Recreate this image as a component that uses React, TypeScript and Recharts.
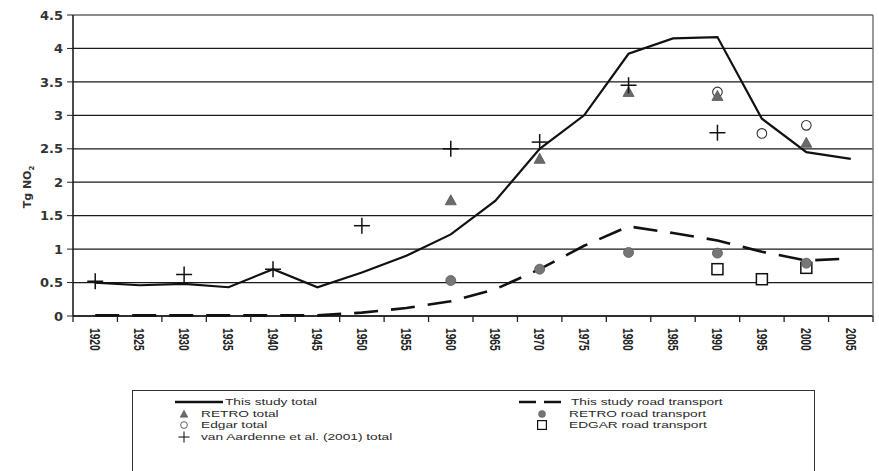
import React from 'react'
import { ComposedChart, Line, XAxis, YAxis, CartesianGrid } from 'recharts'

// years on the x axis and the emission series (Tg NO2)
const years = [1920, 1925, 1930, 1935, 1940, 1945, 1950, 1955, 1960, 1965, 1970, 1975, 1980, 1985, 1990, 1995, 2000, 2005]
const studyTotal = [0.5, 0.46, 0.48, 0.43, 0.7, 0.43, 0.65, 0.9, 1.22, 1.72, 2.5, 3.0, 3.92, 4.15, 4.17, 2.95, 2.45, 2.35]
const studyRoad = [0.01, 0.01, 0.01, 0.01, 0.01, 0.01, 0.05, 0.12, 0.22, 0.4, 0.7, 1.05, 1.34, 1.24, 1.13, 0.96, 0.83, 0.86]
const retroTotal = [null, null, null, null, null, null, null, null, 1.73, null, 2.35, null, 3.35, null, 3.29, null, 2.59, null]
const edgarTotal = [null, null, null, null, null, null, null, null, null, null, null, null, null, null, 3.35, 2.73, 2.85, null]
const aardenneTotal = [0.52, null, 0.62, null, 0.7, null, 1.35, null, 2.5, null, 2.6, null, 3.45, null, 2.74, null, null, null]
const retroRoad = [null, null, null, null, null, null, null, null, 0.53, null, 0.7, null, 0.95, null, 0.94, null, 0.79, null]
const edgarRoad = [null, null, null, null, null, null, null, null, null, null, null, null, null, null, 0.7, 0.55, 0.72, null]

const yTicks = [0, 0.5, 1, 1.5, 2, 2.5, 3, 3.5, 4, 4.5]
// tick marks sit between the 5-year categories
const yearBounds = [...years.map((y) => y - 2.5), 2007.5]

const data = years.map((year, i) => ({
  year,
  studyTotal: studyTotal[i],
  studyRoad: studyRoad[i],
  retroTotal: retroTotal[i],
  edgarTotal: edgarTotal[i],
  aardenneTotal: aardenneTotal[i],
  retroRoad: retroRoad[i],
  edgarRoad: edgarRoad[i],
}))

const Triangle = ({ cx, cy }: { cx: number; cy: number }) => (
  <path d={`M${cx},${cy - 5.5} L${cx + 5.5},${cy + 4.5} L${cx - 5.5},${cy + 4.5} Z`} fill="#6a6a6a" stroke="#555" strokeWidth={0.8} />
)
const OpenCircle = ({ cx, cy }: { cx: number; cy: number }) => (
  <circle cx={cx} cy={cy} r={4.8} fill="#fff" stroke="#333" strokeWidth={1.1} />
)
const Plus = ({ cx, cy }: { cx: number; cy: number }) => (
  <g stroke="#111" strokeWidth={1.5}>
    <line x1={cx - 8} y1={cy} x2={cx + 8} y2={cy} />
    <line x1={cx} y1={cy - 8} x2={cx} y2={cy + 8} />
  </g>
)
const GrayDot = ({ cx, cy }: { cx: number; cy: number }) => (
  <circle cx={cx} cy={cy} r={5} fill="#767676" stroke="#5a5a5a" strokeWidth={0.8} />
)
const Square = ({ cx, cy }: { cx: number; cy: number }) => (
  <rect x={cx - 5.5} y={cy - 5.5} width={11} height={11} fill="#fff" stroke="#111" strokeWidth={1.5} />
)

const marker = (Shape: any, name: string) => (props: any) => {
  if (props.value == null || props.cy == null) return <g key={`${name}-${props.index}`} />
  return <Shape key={`${name}-${props.index}`} cx={props.cx} cy={props.cy} />
}

// smaller copy of a marker for the legend
const LegendMarker = ({ Shape, cx, cy, k = 0.7 }: { Shape: any; cx: number; cy: number; k?: number }) => (
  <g transform={`translate(${cx},${cy}) scale(${k})`}>
    <Shape cx={0} cy={0} />
  </g>
)

const YearTick = ({ x, y, payload }: any) => (
  <text
    transform={`translate(${x},${y + 11}) rotate(90) scale(0.85,1.25)`}
    textAnchor="start"
    dominantBaseline="central"
    fontSize={12}
    fontWeight="bold"
    fontFamily="Liberation Sans, Arial, sans-serif"
    fill="#222"
  >
    {payload.value}
  </text>
)

const NoLabel = () => <g />

// legend labels: narrow font widened a little
const LegendLabel = ({ x, y, children }: { x: number; y: number; children: React.ReactNode }) => (
  <text
    transform={`translate(${x},${y}) scale(1.4,1)`}
    fontSize={9.8}
    fontFamily="Liberation Sans, Arial, sans-serif"
    fill="#2a2a2a"
    dominantBaseline="central"
  >
    {children}
  </text>
)

function ChartLegend() {
  return (
    <svg width={879} height={471} style={{ position: 'absolute', left: 0, top: 0, pointerEvents: 'none' }}>
      <text transform="translate(31,187) rotate(-90)" textAnchor="middle" fontSize={11} fontWeight="bold" fontFamily="DejaVu Sans, sans-serif" fill="#333">
        Tg NO<tspan fontSize={7} dy={3}>2</tspan>
      </text>
      <rect x={132.5} y={390.5} width={682} height={100} fill="none" stroke="#333" strokeWidth={1} />
      <line x1={175} y1={402} x2={223} y2={402} stroke="#111" strokeWidth={2.5} />
      <LegendLabel x={225} y={402}>This study total</LegendLabel>
      <LegendMarker Shape={Triangle} cx={184} cy={414} />
      <LegendLabel x={201} y={413.5}>RETRO total</LegendLabel>
      <LegendMarker Shape={OpenCircle} cx={184} cy={425} />
      <LegendLabel x={201} y={425}>Edgar total</LegendLabel>
      <LegendMarker Shape={Plus} cx={184} cy={437} />
      <LegendLabel x={201} y={436.5}>van Aardenne et al. (2001) total</LegendLabel>
      <line x1={519} y1={402} x2={568} y2={402} stroke="#111" strokeWidth={2.5} strokeDasharray="17 8" />
      <LegendLabel x={571} y={402}>This study road transport</LegendLabel>
      <LegendMarker Shape={GrayDot} cx={542} cy={414} />
      <LegendLabel x={569} y={413.5}>RETRO road transport</LegendLabel>
      <LegendMarker Shape={Square} cx={542} cy={425} k={0.8} />
      <LegendLabel x={569} y={425}>EDGAR road transport</LegendLabel>
    </svg>
  )
}

export default function App() {
  return (
    <div style={{ position: 'absolute', left: 0, top: 0, width: 879, height: 471, background: '#fff' }}>
      <ComposedChart width={879} height={471} data={data} margin={{ top: 15, right: 0, bottom: 153, left: 0 }}>
        <CartesianGrid vertical={false} stroke="#1a1a1a" strokeWidth={1.2} yAxisId="left" />
        <XAxis
          xAxisId="bounds"
          dataKey="year"
          type="number"
          domain={[1917.5, 2007.5]}
          allowDataOverflow
          ticks={yearBounds}
          interval={0}
          height={1}
          tick={<NoLabel />}
          tickSize={6}
          tickLine={{ stroke: '#222', strokeWidth: 1.3 }}
          axisLine={{ stroke: '#111', strokeWidth: 1.5 }}
        />
        <XAxis
          xAxisId="years"
          dataKey="year"
          type="number"
          domain={[1917.5, 2007.5]}
          allowDataOverflow
          ticks={years}
          interval={0}
          height={1}
          tickSize={0}
          tickMargin={0}
          tickLine={false}
          axisLine={false}
          tick={<YearTick />}
        />
        <YAxis
          yAxisId="left"
          width={73}
          domain={[0, 4.5]}
          ticks={yTicks}
          interval={0}
          tickSize={6}
          tickMargin={4}
          tickLine={{ stroke: '#222' }}
          axisLine={{ stroke: '#111', strokeWidth: 1.5 }}
          tick={{ fontSize: 13, fontWeight: 'bold', fontFamily: 'DejaVu Sans, sans-serif', fill: '#333' }}
        />
        <YAxis yAxisId="right" orientation="right" width={6} domain={[0, 4.5]} tick={false} tickLine={false} axisLine={{ stroke: '#777', strokeWidth: 1.5 }} />
        <Line xAxisId="years" yAxisId="left" type="linear" dataKey="studyTotal" stroke="#111" strokeWidth={2.2} dot={false} activeDot={false} isAnimationActive={false} />
        <Line xAxisId="years" yAxisId="left" type="linear" dataKey="studyRoad" stroke="#111" strokeWidth={2.6} strokeDasharray="24 13" dot={false} activeDot={false} isAnimationActive={false} />
        <Line xAxisId="years" yAxisId="left" dataKey="edgarTotal" stroke="none" dot={marker(OpenCircle, 'et')} activeDot={false} isAnimationActive={false} />
        <Line xAxisId="years" yAxisId="left" dataKey="retroTotal" stroke="none" dot={marker(Triangle, 'rt')} activeDot={false} isAnimationActive={false} />
        <Line xAxisId="years" yAxisId="left" dataKey="aardenneTotal" stroke="none" dot={marker(Plus, 'at')} activeDot={false} isAnimationActive={false} />
        <Line xAxisId="years" yAxisId="left" dataKey="edgarRoad" stroke="none" dot={marker(Square, 'er')} activeDot={false} isAnimationActive={false} />
        <Line xAxisId="years" yAxisId="left" dataKey="retroRoad" stroke="none" dot={marker(GrayDot, 'rr')} activeDot={false} isAnimationActive={false} />
      </ComposedChart>
      <ChartLegend />
    </div>
  )
}
